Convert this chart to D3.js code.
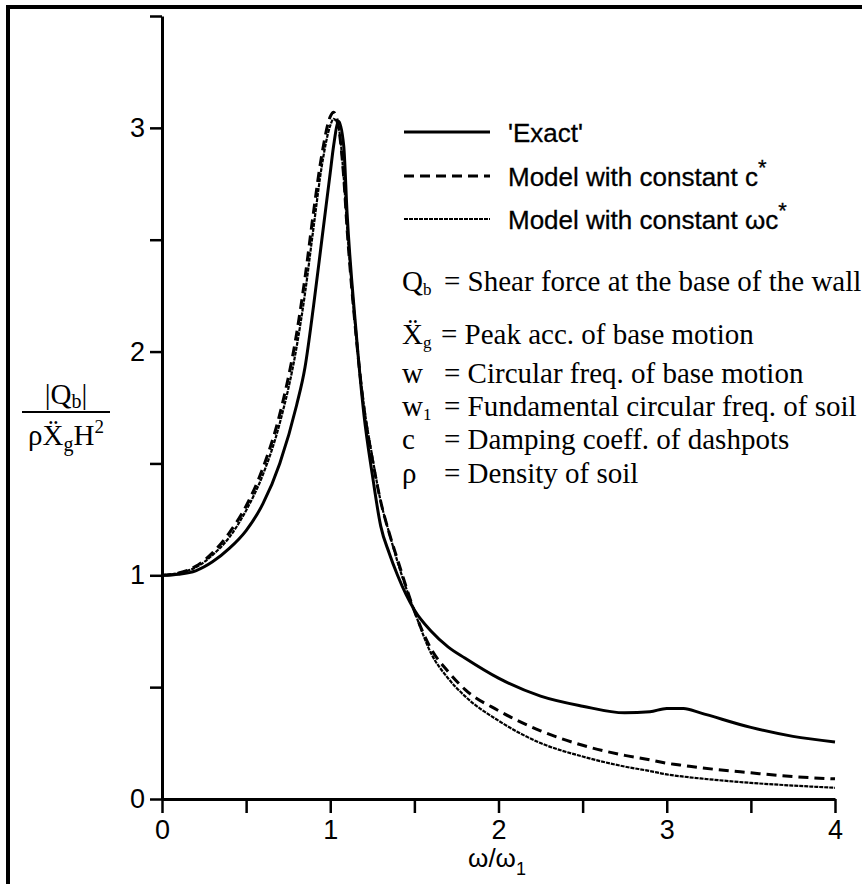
<!DOCTYPE html>
<html>
<head>
<meta charset="utf-8">
<script src="https://cdn.jsdelivr.net/npm/d3@7"></script>
<style>
html,body{margin:0;padding:0;background:#fff;}
svg{display:block;}
</style>
</head>
<body>
<svg id="chart" width="862" height="884"></svg>
<script>
// ---- data ----
const ratio = [0,0.1,0.2,0.3,0.4,0.5,0.6,0.7,0.8,0.85,0.9,0.95,1.0,1.02,1.05,1.08,1.1,1.15,1.2,1.25,1.3,1.35,1.4,1.5,1.6,1.7,1.8,2.0,2.25,2.5,2.75,2.9,3.0,3.1,3.2,3.5,3.75,4.0];
const exact = [1.0,1.005,1.02,1.06,1.12,1.2,1.32,1.5,1.76,1.93,2.2,2.5,2.8,2.92,3.03,2.92,2.62,2.12,1.72,1.45,1.22,1.1,1.0,0.845,0.75,0.68,0.63,0.54,0.46,0.415,0.385,0.39,0.405,0.405,0.385,0.32,0.28,0.255];
const constC = [1.0,1.01,1.04,1.1,1.19,1.31,1.48,1.72,2.08,2.33,2.62,2.88,3.05,3.07,3.0,2.78,2.55,2.1,1.75,1.52,1.33,1.19,1.07,0.84,0.67,0.57,0.49,0.395,0.305,0.24,0.195,0.175,0.16,0.15,0.14,0.117,0.1,0.09];
const constWC = [1.0,1.01,1.035,1.09,1.17,1.29,1.45,1.68,2.02,2.26,2.55,2.83,3.01,3.04,3.0,2.78,2.56,2.1,1.76,1.53,1.33,1.19,1.06,0.84,0.65,0.54,0.46,0.35,0.25,0.19,0.145,0.125,0.11,0.1,0.092,0.072,0.06,0.05];
const xTicks = [0,0.5,1,1.5,2,2.5,3,3.5,4];
const yTicks = [0,0.5,1,1.5,2,2.5,3,3.5];
const xTickLabels = ["0","","1","","2","","3","","4"];
const yTickLabels = ["0","","1","","2","","3",""];
const legendLabels = ["'Exact'","Model with constant c","Model with constant \u03C9c"];
const defSymbols = ["Q","\u1E8C","w","w","c","\u03C1"];
const defSubs = ["b","g","","1","",""];
const defTexts = ["= Shear force at the base of the wall","= Peak acc. of base motion","= Circular freq. of base motion","= Fundamental circular freq. of soil","= Damping coeff. of dashpots","= Density of soil"];

// ---- drawing ----
const svg = d3.select("#chart");
const x = d3.scaleLinear().domain([0,4]).range([162,835]);
const y = d3.scaleLinear().domain([0,3.5]).range([799,16]);
const sans = "'Liberation Sans', Arial, Helvetica, sans-serif";
const serif = "'Liberation Serif', 'Times New Roman', serif";

// frame
svg.append("path").attr("d","M8,884 L8,7 L862,7").attr("fill","none").attr("stroke","#000").attr("stroke-width",4);

// axes
const xAxis = d3.axisBottom(x).tickValues(xTicks).tickSize(14).tickSizeOuter(0)
  .tickFormat((d,i)=>xTickLabels[i]);
const gx = svg.append("g").attr("transform",`translate(0,${y(0)})`).call(xAxis);
gx.select(".domain").attr("stroke","#000").attr("stroke-width",3);
gx.selectAll(".tick line").attr("stroke","#000").attr("stroke-width",2.5);
gx.selectAll(".tick text").attr("font-family",sans).attr("font-size",27).attr("fill","#000").attr("dy","0.95em").attr("y",14);

const yAxis = d3.axisLeft(y).tickValues(yTicks).tickSize(12).tickSizeOuter(0)
  .tickFormat((d,i)=>yTickLabels[i]);
const gy = svg.append("g").attr("transform",`translate(${x(0)},0)`).call(yAxis);
gy.select(".domain").attr("stroke","#000").attr("stroke-width",3);
gy.selectAll(".tick line").attr("stroke","#000").attr("stroke-width",2.5);
gy.selectAll(".tick text").attr("font-family",sans).attr("font-size",27).attr("fill","#000").attr("x",-17);

// curves
const line = d3.line().x(d=>x(d[0])).y(d=>y(d[1])).curve(d3.curveMonotoneX);
const series = [
  {vals: exact, dash: null, w: 3},
  {vals: constC, dash: "10,6", w: 3},
  {vals: constWC, dash: "4,1", w: 2.2}
];
series.forEach(s=>{
  svg.append("path").datum(ratio.map((r,i)=>[r,s.vals[i]]))
    .attr("d",line).attr("fill","none").attr("stroke","#000")
    .attr("stroke-width",s.w).attr("stroke-dasharray",s.dash)
    .attr("stroke-linejoin","round");
});

// legend
const legY = [132,176,219];
series.forEach((s,i)=>{
  svg.append("line").attr("x1",404).attr("x2",490).attr("y1",legY[i]).attr("y2",legY[i])
    .attr("stroke","#000").attr("stroke-width",s.w).attr("stroke-dasharray",s.dash);
  const t = svg.append("text").attr("x",508).attr("y",legY[i]+10)
    .attr("font-family",sans).attr("font-size",26).attr("fill","#000")
    .attr("stroke","#000").attr("stroke-width",0.3)
    .text(legendLabels[i]);
  if(i>0){ t.append("tspan").attr("dy",-11).attr("font-size",22).text("*"); }
});

// definitions
const defY = [291,344,383,416,449,483];
defSymbols.forEach((sym,i)=>{
  const t = svg.append("text").attr("x",402).attr("y",defY[i])
    .attr("font-family",serif).attr("font-size",29).attr("fill","#000");
  t.append("tspan").text(sym);
  if(defSubs[i]) t.append("tspan").attr("font-size",17).attr("dy",4).text(defSubs[i]);
  svg.append("text").attr("x",i===1?441:444).attr("y",defY[i])
    .attr("font-family",serif).attr("font-size",29).attr("fill","#000").text(defTexts[i]);
});

// y axis label (fraction)
const num = svg.append("text").attr("x",66).attr("y",404).attr("text-anchor","middle")
  .attr("font-family",serif).attr("font-size",29).attr("fill","#000");
num.append("tspan").text("|Q");
num.append("tspan").attr("font-size",20).attr("dy",4).text("b");
num.append("tspan").attr("dy",-4).text("|");
svg.append("line").attr("x1",22).attr("x2",110).attr("y1",412).attr("y2",412).attr("stroke","#000").attr("stroke-width",2);
const den = svg.append("text").attr("x",66).attr("y",445).attr("text-anchor","middle")
  .attr("font-family",serif).attr("font-size",29).attr("fill","#000");
den.append("tspan").text("\u03C1\u1E8C");
den.append("tspan").attr("font-size",20).attr("dy",6).text("g");
den.append("tspan").attr("dy",-6).text("H");
den.append("tspan").attr("font-size",19).attr("dy",-12).text("2");

// x axis title
const xt = svg.append("text").attr("x",497).attr("y",867).attr("text-anchor","middle")
  .attr("font-family",sans).attr("font-size",26).attr("fill","#000");
xt.append("tspan").text("\u03C9/\u03C9");
xt.append("tspan").attr("font-size",18).attr("dy",8).text("1");
</script>
</body>
</html>
